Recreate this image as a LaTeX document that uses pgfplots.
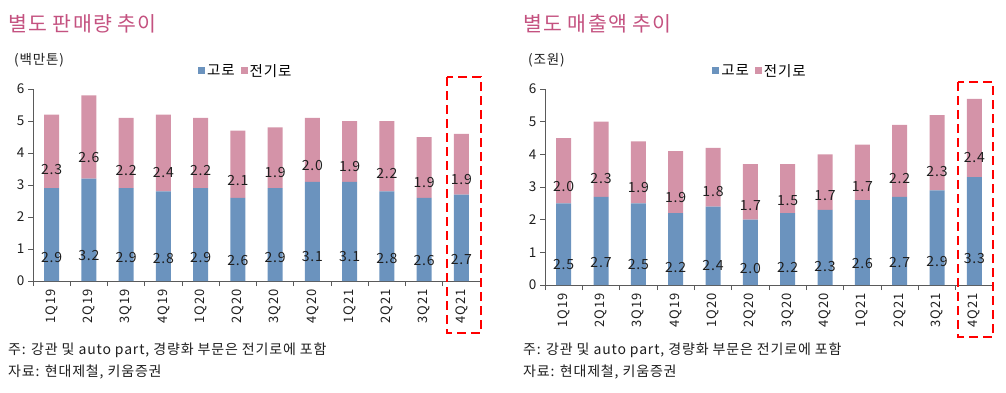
\documentclass[border=0pt]{standalone}
\usepackage{pgfplots}
\pgfplotsset{compat=1.18}
\usepackage{pgfplotstable}
\usepackage{fontspec}
\setmainfont[LetterSpace=6]{Noto Sans CJK KR}
\definecolor{blastc}{RGB}{107,147,190}
\definecolor{eafc}{RGB}{212,147,168}
\definecolor{titlec}{RGB}{196,82,128}
\definecolor{axc}{RGB}{90,90,90}
\definecolor{txtc}{RGB}{30,30,30}

\pgfplotstableread{
x blast eaf
0 2.9 2.3
1 3.2 2.6
2 2.9 2.2
3 2.8 2.4
4 2.9 2.2
5 2.6 2.1
6 2.9 1.9
7 3.1 2.0
8 3.1 1.9
9 2.8 2.2
10 2.6 1.9
11 2.7 1.9
}\volume

\pgfplotstableread{
x blast eaf
0 2.5 2.0
1 2.7 2.3
2 2.5 1.9
3 2.2 1.9
4 2.4 1.8
5 2.0 1.7
6 2.2 1.5
7 2.3 1.7
8 2.6 1.7
9 2.7 2.2
10 2.9 2.3
11 3.3 2.4
}\sales

\pgfplotsset{
  base/.style={
    scale only axis,
    ybar stacked,
    bar width=15pt,
    xmin=-0.5, xmax=11.5,
    ymin=0, ymax=6,
    ytick={0,1,...,6},
    axis x line=bottom,
    axis y line=left,
    axis line style={-, draw=axc, line width=0.8pt},
    tick align=outside,
    major tick length=5pt,
    minor tick length=5pt,
    tick style={draw=axc, line width=0.8pt},
    xtick={0,...,11},
    xticklabels={1Q19,2Q19,3Q19,4Q19,1Q20,2Q20,3Q20,4Q20,1Q21,2Q21,3Q21,4Q21},
    major x tick style={draw=none},
    minor xtick={-0.5,0.5,...,11.5},
    xticklabel style={rotate=90, anchor=east, font=\fontsize{13}{13}\selectfont, text=txtc},
    yticklabel style={font=\fontsize{13.5}{13.5}\selectfont, text=txtc},
    /pgf/number format/assume math mode=true,
    clip=false,
    legend columns=2,
    legend style={draw=none, fill=none, inner sep=0pt, font=\fontsize{14.5}{14.5}\selectfont},
    legend image code/.code={\fill[##1] (0pt,-3.5pt) rectangle (7pt,3.5pt);},
  },
  centerlabels/.style={
    visualization depends on=rawy \as \rawy,
    nodes near coords={\pgfmathprintnumber[fixed,fixed zerofill,precision=1]{\rawy}},
    every node near coord/.append style={anchor=center, yshift=-#1*\rawy,
      font=\fontsize{14}{14}\selectfont, text=txtc},
  },
}

\begin{document}
\begin{tikzpicture}[x=1pt,y=1pt]
\path[use as bounding box] (0,0) rectangle (1006,392);

% ---------- left chart ----------
\node[anchor=west, text=titlec, font=\fontsize{20.5}{20.5}\selectfont, inner sep=0pt] at (8,368) {별도 판매량 추이};
\node[anchor=west, text=txtc, font=\fontsize{13.5}{13.5}\selectfont, inner sep=0pt] at (14,332) {(백만톤)};
\begin{axis}[base,
  at={(33pt,111pt)}, anchor=south west,
  width=447pt, height=192pt,
  legend style={at={(0.369,1.094)}, anchor=west},
]
\addplot[fill=blastc, draw=none, centerlabels=8pt] table[x=x,y=blast]{\volume};
\addplot[fill=eafc, draw=none, centerlabels=8pt] table[x=x,y=eaf]{\volume};
\legend{고로\rule{4pt}{0pt},전기로}
\end{axis}
\draw[red, line width=2.5pt, dash pattern=on 9pt off 5pt] (447,315) rectangle (481,59);
\node[anchor=west, text=txtc, font=\fontsize{14}{14}\selectfont, inner sep=0pt] at (8,42) {주: 강관 및 auto part, 경량화 부문은 전기로에 포함};
\node[anchor=west, text=txtc, font=\fontsize{14}{14}\selectfont, inner sep=0pt] at (8,20) {자료: 현대제철, 키움증권};

% ---------- right chart ----------
\node[anchor=west, text=titlec, font=\fontsize{20.5}{20.5}\selectfont, inner sep=0pt] at (523,368) {별도 매출액 추이};
\node[anchor=west, text=txtc, font=\fontsize{13.5}{13.5}\selectfont, inner sep=0pt] at (528,332) {(조원)};
\begin{axis}[base,
  at={(545pt,107pt)}, anchor=south west,
  width=448pt, height=196pt,
  legend style={at={(0.373,1.092)}, anchor=west},
]
\addplot[fill=blastc, draw=none, centerlabels=8.167pt] table[x=x,y=blast]{\sales};
\addplot[fill=eafc, draw=none, centerlabels=8.167pt] table[x=x,y=eaf]{\sales};
\legend{고로\rule{4pt}{0pt},전기로}
\end{axis}
\draw[red, line width=2.5pt, dash pattern=on 9pt off 5pt] (958,310) rectangle (993,55);
\node[anchor=west, text=txtc, font=\fontsize{14}{14}\selectfont, inner sep=0pt] at (523,42) {주: 강관 및 auto part, 경량화 부문은 전기로에 포함};
\node[anchor=west, text=txtc, font=\fontsize{14}{14}\selectfont, inner sep=0pt] at (523,20) {자료: 현대제철, 키움증권};
\end{tikzpicture}
\end{document}
